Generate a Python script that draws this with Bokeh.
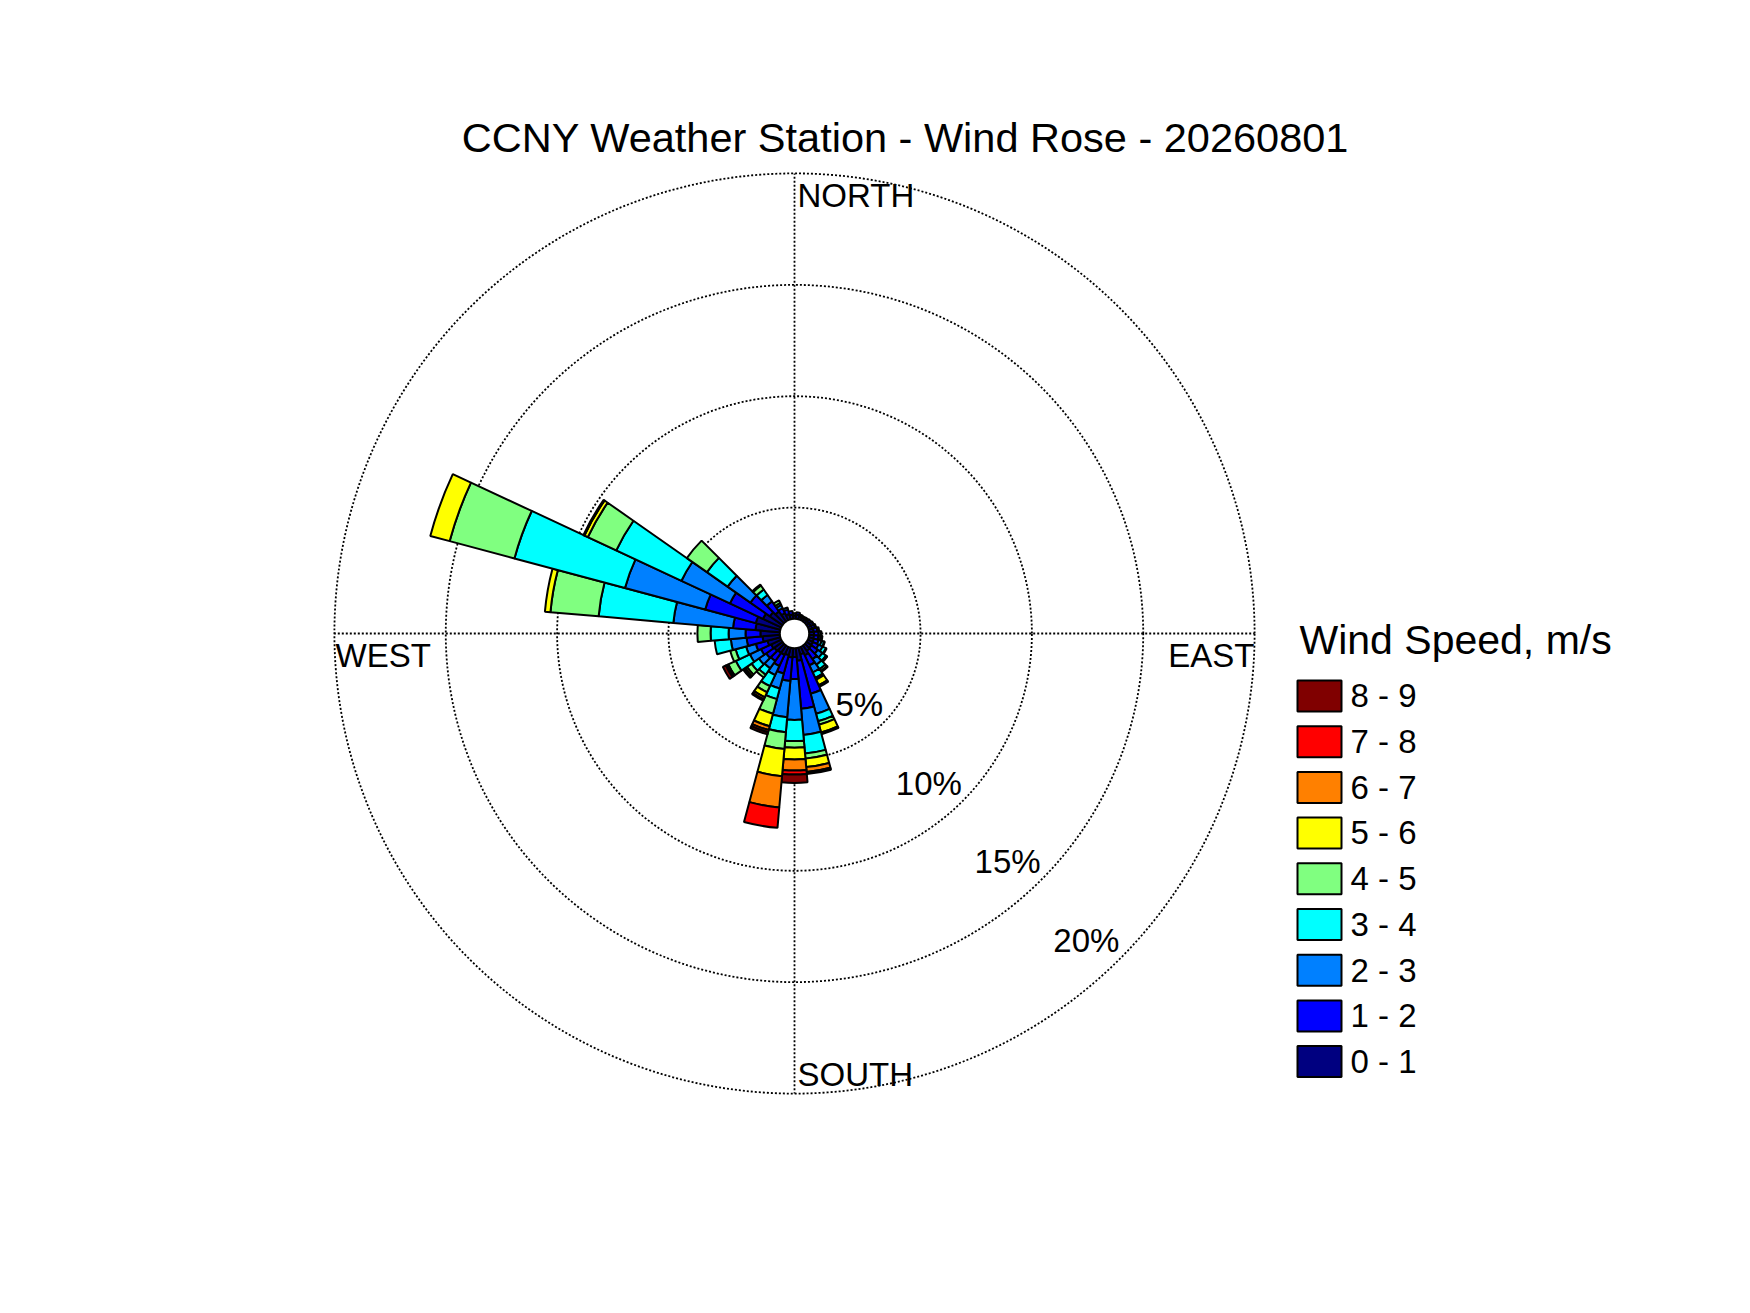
import math
from bokeh.plotting import figure
from bokeh.models import ColumnDataSource, Range1d
from bokeh.core.properties import value
from bokeh.embed import file_html
from bokeh.resources import INLINE

# ---------------- data ----------------
directions = [0, 10, 20, 30, 40, 50, 60, 70, 80, 90, 100, 110, 120, 130, 140, 150, 160, 170,
              180, 190, 200, 210, 220, 230, 240, 250, 260, 270, 280, 290, 300, 310, 320, 330, 340, 350]

speed_labels = ["0 - 1", "1 - 2", "2 - 3", "3 - 4", "4 - 5", "5 - 6", "6 - 7", "7 - 8", "8 - 9"]
speed_colors = ["#000080", "#0000FF", "#0080FF", "#00FFFF", "#80FF80",
                "#FFFF00", "#FF8000", "#FF0000", "#800000"]

# frequency (%) per direction, one list per speed class
s_0_1 = [0.15, 0.18, 0.14, 0.12, 0.13, 0.14, 0.15, 0.17, 0.20, 0.22, 0.22, 0.24, 0.25, 0.27, 0.30, 0.42, 0.31, 0.57,
         0.40, 0.42, 0.35, 0.40, 0.40, 0.45, 0.50, 0.60, 0.78, 0.87, 1.10, 1.14, 0.90, 0.69, 0.55, 0.35, 0.25, 0.20]
s_1_2 = [0.10, 0.12, 0.08, 0.08, 0.09, 0.11, 0.12, 0.13, 0.17, 0.20, 0.20, 0.22, 0.28, 0.35, 0.45, 0.50, 1.83, 2.16,
         0.98, 1.06, 0.85, 0.55, 0.45, 0.45, 0.50, 0.54, 0.72, 0.67, 1.01, 2.35, 1.64, 1.07, 0.55, 0.25, 0.20, 0.15]
s_2_3 = [0, 0, 0, 0, 0, 0, 0.03, 0.05, 0.08, 0.10, 0.10, 0.14, 0.20, 0.25, 0.30, 0.35, 0.93, 1.18,
         1.84, 1.64, 0.70, 0.45, 0.40, 0.40, 0.55, 0.45, 0.71, 0.76, 2.69, 3.73, 2.40, 1.25, 0.35, 0.15, 0.10, 0]
s_3_4 = [0, 0, 0, 0, 0, 0, 0, 0, 0, 0.03, 0.08, 0.12, 0.17, 0.20, 0.25, 0.27, 0.35, 0.84,
         0.95, 0.67, 0.49, 0.55, 0.35, 0.40, 0.70, 0.49, 0.73, 0.81, 3.37, 5.14, 3.23, 1.13, 0.30, 0.10, 0, 0]
s_4_5 = [0, 0, 0, 0, 0, 0, 0, 0, 0, 0, 0, 0.03, 0.03, 0.05, 0.10, 0.09, 0.16, 0.23,
         0.30, 0.76, 0.68, 0.30, 0.15, 0.25, 0.37, 0.25, 0, 0.59, 2.17, 3.01, 1.41, 1.10, 0.22, 0.13, 0, 0]
s_5_6 = [0, 0, 0, 0, 0, 0, 0, 0, 0, 0, 0, 0, 0, 0.02, 0.05, 0.27, 0.36, 0.38,
         0.53, 1.22, 0.58, 0.25, 0, 0.10, 0.02, 0, 0, 0, 0.25, 0.90, 0.17, 0, 0.05, 0, 0, 0]
s_6_7 = [0, 0, 0, 0, 0, 0, 0, 0, 0, 0, 0, 0, 0, 0, 0, 0.08, 0.08, 0.22,
         0.49, 1.41, 0.18, 0.10, 0, 0.05, 0.06, 0, 0, 0, 0, 0, 0.05, 0, 0, 0, 0, 0]
s_7_8 = [0, 0, 0, 0, 0, 0, 0, 0, 0, 0, 0, 0, 0, 0, 0, 0, 0, 0.05,
         0.18, 0.92, 0.10, 0.03, 0, 0.03, 0.04, 0, 0, 0, 0, 0, 0, 0, 0, 0, 0, 0]
s_8_9 = [0, 0, 0, 0, 0, 0, 0, 0, 0, 0, 0, 0, 0, 0, 0, 0, 0, 0.04,
         0.38, 0, 0.10, 0.03, 0, 0.03, 0.15, 0, 0, 0, 0, 0, 0, 0, 0, 0, 0, 0]
speed_series = [s_0_1, s_1_2, s_2_3, s_3_4, s_4_5, s_5_6, s_6_7, s_7_8, s_8_9]

ring_values = [5, 10, 15, 20]
ring_labels = ["5%", "10%", "15%", "20%"]
title_text = "CCNY Weather Station - Wind Rose - 20260801"
legend_title = "Wind Speed, m/s"

# ---------------- layout ----------------
S = 22.27            # pixels per percent
CX, CY = 794, 633    # centre in page pixels
HOLE = 14.7 / S      # inner empty radius (data units)
W, H = 1734, 1297
FONT = "Liberation Sans"
KB = 0.43            # baseline correction (fraction of font size)


def X(px):
    return (px - CX) / S


def Y(py):
    return (CY - py) / S


def TY(py, fs):
    # data y for a desired alphabetic baseline at page pixel py
    return Y(py - KB * fs)


p = figure(width=W, height=H, output_backend="svg", toolbar_location=None,
           x_range=Range1d(X(0), X(W)), y_range=Range1d(Y(H), Y(0)),
           min_border=0, x_axis_location=None, y_axis_location=None)
p.grid.visible = False
p.outline_line_color = None
p.background_fill_color = "white"
p.border_fill_color = "white"

R_OUT = HOLE + ring_values[-1]

# dotted rings
for rv in ring_values:
    p.arc(x=0, y=0, radius=HOLE + rv, start_angle=0, end_angle=2 * math.pi,
          line_color="black", line_width=1.8, line_dash="2 2")
# dotted axes
for ang in [0, 90, 180, 270]:
    a = math.radians(ang)
    p.line(x=[HOLE * math.cos(a), R_OUT * math.cos(a)], y=[HOLE * math.sin(a), R_OUT * math.sin(a)],
           line_color="black", line_width=1.8, line_dash="2 2")

# wind rose wedges
starts, ends, inners, outers, colors = [], [], [], [], []
for i, d in enumerate(directions):
    cum = 0.0
    for k, series in enumerate(speed_series):
        v = series[i]
        if v <= 0:
            continue
        starts.append(math.radians(90 - d - 5))
        ends.append(math.radians(90 - d + 5))
        inners.append(HOLE + cum)
        outers.append(HOLE + cum + v)
        colors.append(speed_colors[k])
        cum += v
src = ColumnDataSource(dict(start=starts, end=ends, inner=inners, outer=outers, color=colors))
p.annular_wedge(x=0, y=0, inner_radius="inner", outer_radius="outer", start_angle="start",
                end_angle="end", fill_color="color", line_color="black", line_width=2, source=src)

LFS = 33
# ring labels (along -45 deg)
c45 = math.cos(math.radians(45))
p.text(x=[(HOLE + rv) * c45 - 0.5 / S for rv in ring_values],
       y=[-(HOLE + rv) * c45 + (4 + KB * LFS) / S for rv in ring_values],
       text=ring_labels, text_font=value(FONT), text_font_size=value(f"{LFS}px"),
       text_align="right", text_baseline="alphabetic", text_color="black")

# compass labels
p.text(x=[X(797), X(797)], y=[TY(209, LFS), TY(1088, LFS)], text=["NORTH", "SOUTH"], text_font=value(FONT),
       text_font_size=value(f"{LFS}px"), text_align="left", text_baseline="alphabetic", text_color="black")
p.text(x=[X(335)], y=[TY(669, LFS)], text=["WEST"], text_font=value(FONT),
       text_font_size=value(f"{LFS}px"), text_align="left", text_baseline="alphabetic", text_color="black")
p.text(x=[X(1254)], y=[TY(669, LFS)], text=["EAST"], text_font=value(FONT),
       text_font_size=value(f"{LFS}px"), text_align="right", text_baseline="alphabetic", text_color="black")

# title
TFS = 41.5
p.text(x=[X(905)], y=[TY(155, TFS)], text=[title_text], text_font=value(FONT),
       text_font_size=value(f"{TFS}px"), text_align="center", text_baseline="alphabetic", text_color="black")

# legend
p.text(x=[X(1299)], y=[TY(657, 41)], text=[legend_title], text_font=value(FONT),
       text_font_size=value("41px"), text_align="left", text_baseline="alphabetic", text_color="black")
order = list(range(len(speed_labels)))[::-1]
box_top0, pitch, bh = 680, 45.7, 31
lx, ly, lc, lt = [], [], [], []
tx, ty = [], []
for j, k in enumerate(order):
    top = box_top0 + j * pitch
    lx.append(X(1319))
    ly.append(Y(top + bh / 2))
    lc.append(speed_colors[k])
    lt.append(speed_labels[k])
    tx.append(X(1350))
    ty.append(TY(top + 29.5, 33))
p.rect(x=lx, y=ly, width=44 / S, height=bh / S, fill_color=lc, line_color="black", line_width=2)
p.text(x=tx, y=ty, text=lt, text_font=value(FONT), text_font_size=value("33px"),
       text_align="left", text_baseline="alphabetic", text_color="black")

open("out.html", "w").write(file_html(p, INLINE))
